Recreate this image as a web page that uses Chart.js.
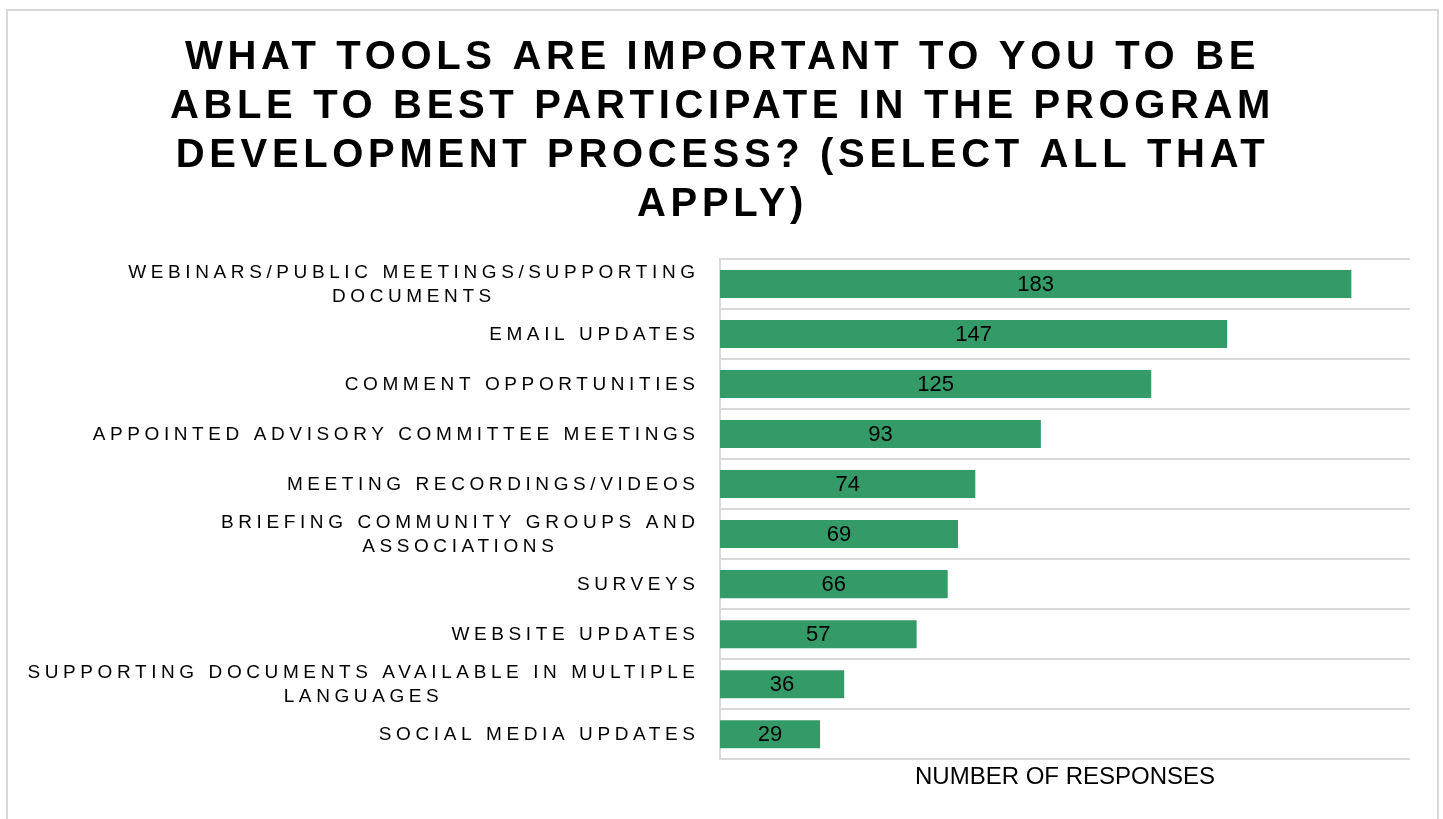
<!DOCTYPE html>
<html>
<head>
<meta charset="utf-8">
<title>Program Development Tools</title>
<script src="https://cdn.jsdelivr.net/npm/chart.js@4.4.1/dist/chart.umd.min.js"></script>
<style>
  html, body { margin: 0; padding: 0; background: #ffffff; overflow: hidden; }
  #frame {
    position: absolute;
    left: 6px;
    top: 9px;
    width: 1429px;
    height: 820px;
    border: 2px solid #d9d9d9;
    overflow: hidden;
  }
  #chart { display: block; }
</style>
</head>
<body>
<div id="frame">
  <canvas id="chart" width="1429" height="808"></canvas>
</div>
<script>
const FONT = "'Liberation Sans', Arial, Helvetica, sans-serif";

const titleLines = [
  'WHAT TOOLS ARE IMPORTANT TO YOU TO BE',
  'ABLE TO BEST PARTICIPATE IN THE PROGRAM',
  'DEVELOPMENT PROCESS? (SELECT ALL THAT',
  'APPLY)'
];

// each category is a list of lines as they wrap on the axis
const categories = [
  ['WEBINARS/PUBLIC MEETINGS/SUPPORTING', 'DOCUMENTS'],
  ['EMAIL UPDATES'],
  ['COMMENT OPPORTUNITIES'],
  ['APPOINTED ADVISORY COMMITTEE MEETINGS'],
  ['MEETING RECORDINGS/VIDEOS'],
  ['BRIEFING COMMUNITY GROUPS AND', 'ASSOCIATIONS'],
  ['SURVEYS'],
  ['WEBSITE UPDATES'],
  ['SUPPORTING DOCUMENTS AVAILABLE IN MULTIPLE', 'LANGUAGES'],
  ['SOCIAL MEDIA UPDATES']
];

const responses = [183, 147, 125, 93, 74, 69, 66, 57, 36, 29];

const axisTitle = 'NUMBER OF RESPONSES';
const xMax = 200;

const barColor = '#349a67';
const gridColor = '#d9d9d9';
const TITLE_SPACING = 4.65;
const LABEL_SPACING = 4.6;

// title is drawn spaced out; the spacing is dropped again once the bars are done
const spacingPlugin = {
  id: 'spacing',
  beforeDraw(chart) {
    chart.ctx.letterSpacing = TITLE_SPACING + 'px';
  },
  beforeDatasetsDraw(chart) {
    chart.ctx.letterSpacing = '0px';
  },
  afterDatasetsDraw(chart) {
    const ctx = chart.ctx;
    ctx.letterSpacing = '0px';

    // value inside each bar
    const meta = chart.getDatasetMeta(0);
    ctx.save();
    ctx.font = '22px ' + FONT;
    ctx.fillStyle = '#000000';
    ctx.textAlign = 'center';
    ctx.textBaseline = 'middle';
    meta.data.forEach((bar, i) => {
      const cx = (bar.x + bar.base) / 2;
      ctx.fillText(String(responses[i]), cx, bar.y + 1);
    });
    ctx.restore();
  }
};

// category labels: block right-aligned to the axis, lines centred in the block
const categoryLabels = {
  id: 'categoryLabels',
  afterDraw(chart) {
    const ctx = chart.ctx;
    const yScale = chart.scales.y;
    const rightEdge = chart.chartArea.left - 25;
    const lineH = 24;
    ctx.save();
    ctx.letterSpacing = LABEL_SPACING + 'px';
    ctx.font = '19px ' + FONT;
    ctx.fillStyle = '#000000';
    ctx.textAlign = 'center';
    ctx.textBaseline = 'middle';
    categories.forEach((lines, i) => {
      const y = yScale.getPixelForTick(i);
      const w = Math.max(...lines.map(l => ctx.measureText(l).width));
      const cx = rightEdge + LABEL_SPACING - w / 2;
      lines.forEach((line, j) => {
        ctx.fillText(line, cx, y + (j - (lines.length - 1) / 2) * lineH + 1);
      });
    });
    ctx.restore();
  }
};

new Chart(document.getElementById('chart'), {
  type: 'bar',
  data: {
    labels: categories,
    datasets: [{
      label: axisTitle,
      data: responses,
      backgroundColor: barColor,
      borderWidth: 0,
      barPercentage: 0.56,
      categoryPercentage: 1.0
    }]
  },
  options: {
    indexAxis: 'y',
    responsive: false,
    animation: false,
    layout: {
      padding: { left: 27, right: 27, top: 0, bottom: 0 }
    },
    scales: {
      x: {
        min: 0,
        max: xMax,
        ticks: { display: false },
        // z > 0 puts the axis title after the datasets, i.e. without spacing
        grid: { display: false, drawTicks: false, z: 1 },
        border: { display: false },
        title: {
          display: true,
          text: axisTitle,
          color: '#000000',
          font: { family: FONT, size: 24 },
          padding: { top: 4, bottom: 27 }
        }
      },
      y: {
        ticks: { display: false },
        grid: {
          color: gridColor,
          lineWidth: 2,
          drawTicks: false
        },
        border: { display: true, color: gridColor, width: 2 },
        afterFit(scale) {
          scale.width = 685;
        }
      }
    },
    plugins: {
      legend: { display: false },
      tooltip: { enabled: false },
      title: {
        display: true,
        text: titleLines,
        color: '#000000',
        font: { family: FONT, size: 40, weight: 'bold', lineHeight: 1.225 },
        padding: { top: 22, bottom: 30 }
      }
    }
  },
  plugins: [spacingPlugin, categoryLabels]
});
</script>
</body>
</html>
